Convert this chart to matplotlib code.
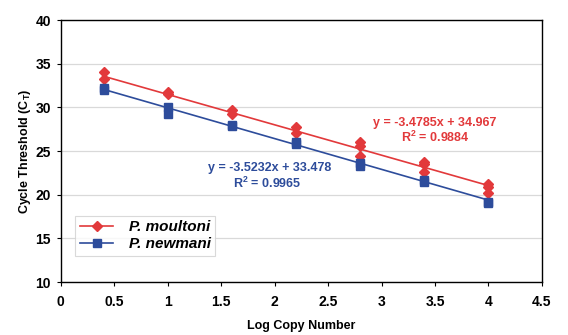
import matplotlib
matplotlib.use('Agg')
import matplotlib.pyplot as plt
import numpy as np

plt.rcParams['font.family'] = ['Liberation Sans', 'DejaVu Sans']
plt.rcParams['font.weight'] = 'bold'

# data
x_moul = [0.4, 0.4, 1.0, 1.0, 1.6, 1.6, 2.2, 2.2, 2.8, 2.8, 2.8, 3.4, 3.4, 3.4, 4.0, 4.0, 4.0]
y_moul = [34.1, 33.2, 31.8, 31.5, 29.7, 29.3, 27.8, 27.1, 26.0, 25.6, 24.4, 23.8, 23.5, 22.6, 21.2, 20.9, 20.2]
x_newm = [0.4, 0.4, 1.0, 1.0, 1.6, 1.6, 2.2, 2.2, 2.8, 2.8, 3.4, 3.4, 4.0, 4.0]
y_newm = [32.2, 32.0, 30.0, 29.3, 28.0, 27.9, 26.0, 25.8, 23.6, 23.3, 21.7, 21.5, 19.2, 19.1]

# trendline coefficients (slope, intercept, r2)
fit_moul = (-3.4785, 34.967, 0.9884)
fit_newm = (-3.5232, 33.478, 0.9965)

red = '#E2393B'
blue = '#2D4C9B'

fig = plt.figure(figsize=(5.68, 3.35), dpi=100)
ax = fig.add_axes([0.107, 0.158, 0.847, 0.782])

xl = np.array([0.4, 4.0])
ax.plot(xl, fit_moul[0] * xl + fit_moul[1], color=red, lw=1.2, zorder=2)
ax.plot(xl, fit_newm[0] * xl + fit_newm[1], color=blue, lw=1.2, zorder=2)

ax.plot(x_moul, y_moul, 'D', color=red, ms=5, zorder=3)
ax.plot(x_newm, y_newm, 's', color=blue, ms=6, zorder=3)

# legend handles
ax.plot([], [], '-D', color=red, ms=5, lw=1.2, label='P. moultoni')
ax.plot([], [], '-s', color=blue, ms=6, lw=1.2, label='P. newmani')
leg = ax.legend(loc='lower left', bbox_to_anchor=(0.03, 0.1), prop={'size': 11, 'weight': 'bold', 'style': 'italic'},
                frameon=True, fancybox=False, edgecolor='#D0D0D0', borderpad=0.3, handlelength=2.2,
                labelspacing=0.2, borderaxespad=0, handletextpad=1.0)
leg.get_frame().set_linewidth(0.8)

eq = 'y = %.4fx + %.3f' % (fit_moul[0], fit_moul[1])
ax.text(3.5, 28.2, eq, color=red, fontsize=9, fontweight='bold', ha='center', va='center')
ax.text(3.5, 26.6, 'R$^\\mathregular{2}$ = %.4f' % fit_moul[2], color=red, fontsize=9, fontweight='bold', ha='center', va='center')
eq = 'y = %.4fx + %.3f' % (fit_newm[0], fit_newm[1])
ax.text(1.95, 23.06, eq, color=blue, fontsize=9, fontweight='bold', ha='center', va='center')
ax.text(1.93, 21.3, 'R$^\\mathregular{2}$ = %.4f' % fit_newm[2], color=blue, fontsize=9, fontweight='bold', ha='center', va='center')

ax.set_xlim(0, 4.5)
ax.set_ylim(10, 40)
ax.set_xticks(np.arange(0, 4.51, 0.5))
ax.set_xticklabels(['0', '0.5', '1', '1.5', '2', '2.5', '3', '3.5', '4', '4.5'])
ax.set_yticks(np.arange(10, 41, 5))
ax.yaxis.grid(True, color='#D9D9D9', lw=0.9)
ax.set_axisbelow(True)
ax.tick_params(labelsize=10, length=3, width=0.8, direction='out')
ax.tick_params(axis='x', pad=6)
ax.tick_params(axis='y', pad=4)
for s in ax.spines.values():
    s.set_linewidth(1.0)
    s.set_color('black')

ax.set_xlabel('Log Copy Number', fontsize=9, fontweight='bold', labelpad=8)
ax.set_ylabel('Cycle Threshold (C$_\\mathregular{T}$)', fontsize=9, fontweight='bold', labelpad=2)

fig.savefig('out.png', dpi=100)
